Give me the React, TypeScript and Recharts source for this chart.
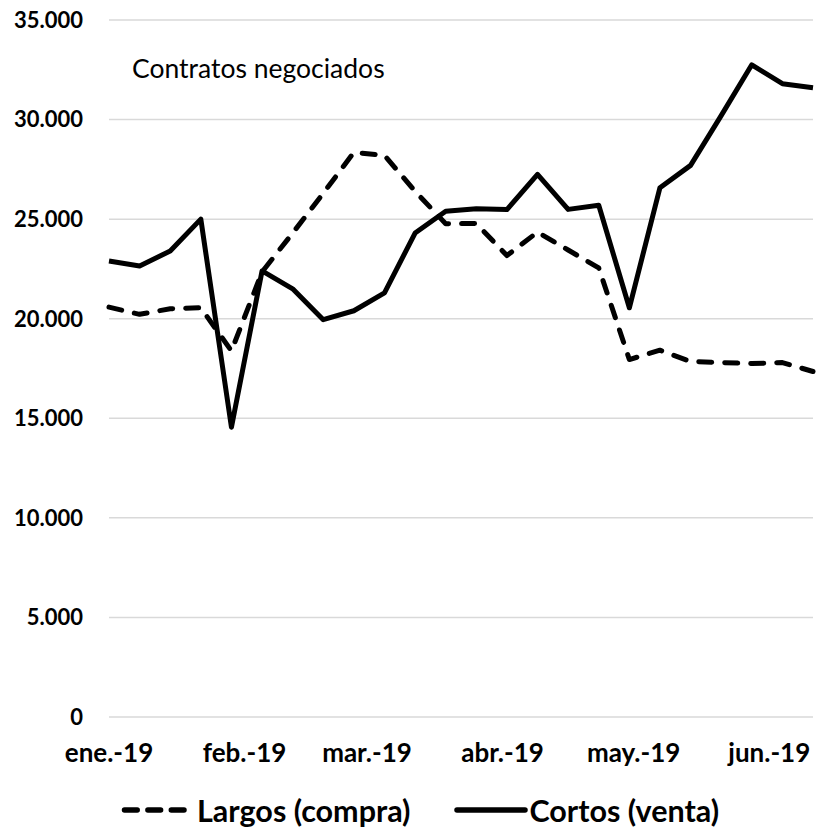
import { LineChart, Line, XAxis, YAxis, CartesianGrid, Legend } from "recharts";

const fechas = [
  "2019-01-01", "2019-01-08", "2019-01-15", "2019-01-22", "2019-01-29",
  "2019-02-05", "2019-02-12", "2019-02-19", "2019-02-26",
  "2019-03-05", "2019-03-12", "2019-03-19", "2019-03-26",
  "2019-04-02", "2019-04-09", "2019-04-16", "2019-04-23", "2019-04-30",
  "2019-05-07", "2019-05-14", "2019-05-21", "2019-05-28",
  "2019-06-04", "2019-06-11",
];

const largos = [
  20580, 20220, 20500, 20550, 18380, 22350, 24300, 26300, 28350, 28200, 26400, 24770,
  24780, 23170, 24350, 23450, 22550, 17950, 18420, 17850, 17800, 17750, 17800, 17350,
];

const cortos = [
  22900, 22650, 23400, 25000, 14550, 22400, 21500, 19950, 20400, 21300, 24300, 25400,
  25520, 25480, 27250, 25490, 25700, 20550, 26580, 27700, 30200, 32750, 31800, 31600,
];

const mesesFechas = ["2019-01-01", "2019-02-01", "2019-03-01", "2019-04-01", "2019-05-01", "2019-06-01"];
const mesesEtiquetas = ["ene.-19", "feb.-19", "mar.-19", "abr.-19", "may.-19", "jun.-19"];
const yTicks = [0, 5000, 10000, 15000, 20000, 25000, 30000, 35000];

const DAY = 86400000;
const t0 = Date.parse(fechas[0]);
const toDay = (s: string) => Math.round((Date.parse(s) - t0) / DAY);

const data = fechas.map((f, i) => ({ dia: toDay(f), largos: largos[i], cortos: cortos[i] }));
const xTicks = mesesFechas.map(toDay);

const fmtY = (v: number) => (v === 0 ? "0" : v.toLocaleString("de-DE"));
const fmtX = (v: number) => mesesEtiquetas[xTicks.indexOf(v)] ?? "";

const FONT = "Lato, 'Open Sans', sans-serif";

const LegendContent = () => (
  <div
    style={{
      display: "flex",
      alignItems: "center",
      height: 40,
      fontFamily: FONT,
      fontWeight: 700,
      fontSize: 30.5,
      color: "#000",
      whiteSpace: "nowrap",
    }}
  >
    <svg width={72} height={10} style={{ marginLeft: 118, flexShrink: 0 }}>
      <line x1={6.5} y1={5} x2={66} y2={5} stroke="#000" strokeWidth={5.5} strokeDasharray="12.7 10.7" strokeLinecap="round" />
    </svg>
    <span style={{ marginLeft: 7 }}>Largos (compra)</span>
    <svg width={74} height={10} style={{ marginLeft: 44, flexShrink: 0 }}>
      <line x1={3} y1={5} x2={71} y2={5} stroke="#000" strokeWidth={5.5} strokeLinecap="round" />
    </svg>
    <span style={{ marginLeft: 1 }}>Cortos (venta)</span>
  </div>
);

export default function App() {
  return (
    <div style={{ position: "absolute", left: 0, top: 0, width: 817, height: 836, background: "#fff", fontFamily: FONT }}>
      <LineChart width={817} height={836} data={data} margin={{ top: 20, right: 4, left: 0, bottom: 6 }}>
        <CartesianGrid vertical={false} stroke="#d9d9d9" strokeWidth={1.5} />
        <XAxis
          dataKey="dia"
          type="number"
          domain={[0, 161]}
          ticks={xTicks}
          tickFormatter={fmtX}
          axisLine={false}
          tickLine={false}
          tickMargin={21}
          height={73}
          interval={0}
          tick={{ fontSize: 26, fontWeight: 700, fill: "#000", fontFamily: FONT }}
        />
        <YAxis
          domain={[0, 35000]}
          ticks={yTicks}
          tickFormatter={fmtY}
          axisLine={false}
          tickLine={false}
          width={109}
          tickMargin={20}
          interval={0}
          tick={{ fontSize: 22, fontWeight: 700, fill: "#000", fontFamily: FONT }}
        />
        <Legend verticalAlign="bottom" align="left" height={40} content={<LegendContent />} />
        <Line
          dataKey="largos"
          name="Largos (compra)"
          stroke="#000"
          strokeWidth={5}
          strokeDasharray="13 13"
          strokeLinecap="round"
          strokeLinejoin="round"
          dot={false}
          isAnimationActive={false}
        />
        <Line
          dataKey="cortos"
          name="Cortos (venta)"
          stroke="#000"
          strokeWidth={5}
          strokeLinejoin="round"
          dot={false}
          isAnimationActive={false}
        />
        <text x={132} y={78} fontSize={26.5} fontFamily={FONT} fill="#000">
          Contratos negociados
        </text>
      </LineChart>
    </div>
  );
}
